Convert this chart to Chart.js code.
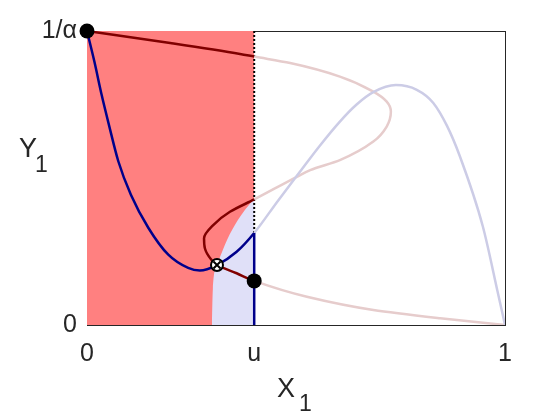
<!DOCTYPE html>
<html>
<head>
<meta charset="utf-8">
<script src="https://cdn.jsdelivr.net/npm/chart.js@4/dist/chart.umd.min.js"></script>
<style>
  body { margin: 0; background: #fff; }
  #wrap { position: relative; width: 560px; height: 420px; }
  .lbl { position: absolute; font-family: "Liberation Sans", Arial, sans-serif; color: #262626; white-space: nowrap; }
  .main { font-size: 27px; line-height: 27px; }
  .sub { font-size: 23px; line-height: 23px; }
</style>
</head>
<body>
<div id="wrap">
  <canvas id="chart" width="560" height="420"></canvas>
  <div class="lbl main" style="left:19px; top:135px;">Y</div>
  <div class="lbl sub" style="left:35px; top:153px;">1</div>
  <div class="lbl main" style="left:277px; top:375px;">X</div>
  <div class="lbl sub" style="left:299px; top:392px;">1</div>
</div>
<script>
const U = 0.4;

// tick positions and labels
const xTickValues = [0, U, 1];
const xTickLabels = ["0", "u", "1"];
const yTickValues = [0, 1];
const yTickLabels = ["0", "1/\u03b1"];

// shaded regions
const redRegionX = [0, U];
const redRegionY = [1, 1];
const blueRegionX = [0.299, 0.301, 0.313, 0.335, 0.361, 0.397, 0.4];
const blueRegionY = [0, 0.119, 0.211, 0.289, 0.357, 0.425, 0.43];

// red curve (dark where x <= u, faded beyond)
const redCurveX = [0, 0.199, 0.366, 0.4, 0.486, 0.605, 0.685, 0.717, 0.727, 0.717, 0.685, 0.605, 0.534, 0.502, 0.4,
                   0.342, 0.302, 0.280, 0.282, 0.298, 0.311, 0.358, 0.4, 0.526, 0.685, 0.845, 1];
const redCurveY = [1, 0.959, 0.922, 0.913, 0.891, 0.845, 0.794, 0.760, 0.726, 0.675, 0.624, 0.561, 0.527, 0.504, 0.427,
                   0.385, 0.340, 0.295, 0.261, 0.221, 0.204, 0.176, 0.150, 0.096, 0.051, 0.023, 0];

// blue curve (dark where x <= u, faded beyond)
const blueCurveX = [0, 0.0175, 0.035, 0.0526, 0.0749, 0.105, 0.147, 0.1945, 0.242, 0.270, 0.311, 0.358, 0.4,
                    0.457, 0.514, 0.557, 0.605, 0.645, 0.685, 0.739, 0.789, 0.828, 0.861, 0.892, 0.947, 0.983, 1];
const blueCurveY = [1, 0.897, 0.783, 0.680, 0.557, 0.443, 0.330, 0.239, 0.194, 0.185, 0.204, 0.249, 0.313,
                    0.423, 0.530, 0.610, 0.692, 0.750, 0.792, 0.816, 0.800, 0.756, 0.678, 0.574, 0.335, 0.109, 0];

// vertical line at u
const uLineX = [U, U];
const uSolidY = [0, 0.313];
const uDottedY = [0.313, 1];

// markers
const dotX = [0, U];
const dotY = [1, 0.150];
const crossX = [0.311];
const crossY = [0.204];

const MAROON = "#800000";
const MAROON_LIGHT = "#e6cccc";
const NAVY = "#00008b";
const NAVY_LIGHT = "#ccccE6";
const AXIS = "#262626";

function pts(xs, ys) {
  return xs.map((x, i) => ({ x: x, y: ys[i] }));
}

function shade(dark, light) {
  return ctx => (ctx.p0.parsed.x <= U + 1e-9 && ctx.p1.parsed.x <= U + 1e-9) ? dark : light;
}

const datasets = [
  {
    data: pts(redRegionX, redRegionY),
    borderWidth: 0,
    pointRadius: 0,
    fill: "origin",
    backgroundColor: "#ff8080",
    order: 20
  },
  {
    data: pts(blueRegionX, blueRegionY),
    borderWidth: 0,
    pointRadius: 0,
    cubicInterpolationMode: "monotone",
    fill: "origin",
    backgroundColor: "#e0e0f8",
    order: 19
  },
  {
    data: pts(uLineX, uDottedY),
    borderColor: "#000000",
    borderWidth: 2,
    borderDash: [2, 2],
    pointRadius: 0,
    order: 18
  },
  {
    // folds back in x, so smooth it along y
    data: pts(redCurveX, redCurveY),
    indexAxis: "y",
    borderColor: MAROON,
    borderWidth: 2.5,
    pointRadius: 0,
    cubicInterpolationMode: "monotone",
    segment: { borderColor: shade(MAROON, MAROON_LIGHT) },
    order: 17
  },
  {
    data: pts(blueCurveX, blueCurveY),
    borderColor: NAVY,
    borderWidth: 2.5,
    pointRadius: 0,
    cubicInterpolationMode: "monotone",
    segment: { borderColor: shade(NAVY, NAVY_LIGHT) },
    order: 16
  },
  {
    data: pts(uLineX, uSolidY),
    borderColor: NAVY,
    borderWidth: 2.5,
    pointRadius: 0,
    order: 15
  },
  {
    data: pts(dotX, dotY),
    showLine: false,
    pointRadius: 7.5,
    pointBackgroundColor: "#000000",
    pointBorderColor: "#000000",
    pointBorderWidth: 0,
    clip: false,
    order: 3
  },
  {
    data: pts(crossX, crossY),
    showLine: false,
    pointRadius: 6,
    pointBackgroundColor: "#ffffff",
    pointBorderColor: "#000000",
    pointBorderWidth: 2,
    clip: false,
    order: 2
  },
  {
    data: pts(crossX, crossY),
    showLine: false,
    pointStyle: "crossRot",
    pointRadius: 5,
    pointBorderColor: "#000000",
    pointBorderWidth: 2,
    clip: false,
    order: 1
  }
];

const tickFont = { family: "Liberation Sans", size: 25 };

new Chart(document.getElementById("chart"), {
  type: "line",
  data: { datasets: datasets },
  options: {
    responsive: false,
    animation: false,
    events: [],
    layout: { padding: { top: 31, right: 55, left: 0, bottom: 0 } },
    plugins: { legend: { display: false }, tooltip: { enabled: false } },
    scales: {
      x: {
        type: "linear",
        min: 0,
        max: 1,
        grid: { display: false, drawTicks: false },
        border: { display: true, color: AXIS, width: 1 },
        afterBuildTicks: s => { s.ticks = xTickValues.map(v => ({ value: v })); },
        afterFit: s => { s.height = 95; },
        ticks: {
          autoSkip: false,
          maxRotation: 0,
          padding: 14,
          color: AXIS,
          font: tickFont,
          callback: v => xTickLabels[xTickValues.indexOf(v)]
        }
      },
      y: {
        type: "linear",
        min: 0,
        max: 1,
        grid: { display: false, drawTicks: false },
        border: { display: true, color: AXIS, width: 1 },
        afterBuildTicks: s => { s.ticks = yTickValues.map(v => ({ value: v })); },
        afterFit: s => { s.width = 87; },
        ticks: {
          autoSkip: false,
          padding: 10,
          color: AXIS,
          font: tickFont,
          callback: v => yTickLabels[yTickValues.indexOf(v)]
        }
      },
      xTop: {
        type: "linear",
        position: "top",
        min: 0,
        max: 1,
        grid: { display: false, drawTicks: false },
        border: { display: true, color: AXIS, width: 1 },
        ticks: { display: false },
        afterFit: s => { s.height = 0; }
      },
      yRight: {
        type: "linear",
        position: "right",
        min: 0,
        max: 1,
        grid: { display: false, drawTicks: false },
        border: { display: true, color: AXIS, width: 1 },
        ticks: { display: false },
        afterFit: s => { s.width = 0; }
      }
    }
  }
});
</script>
</body>
</html>
